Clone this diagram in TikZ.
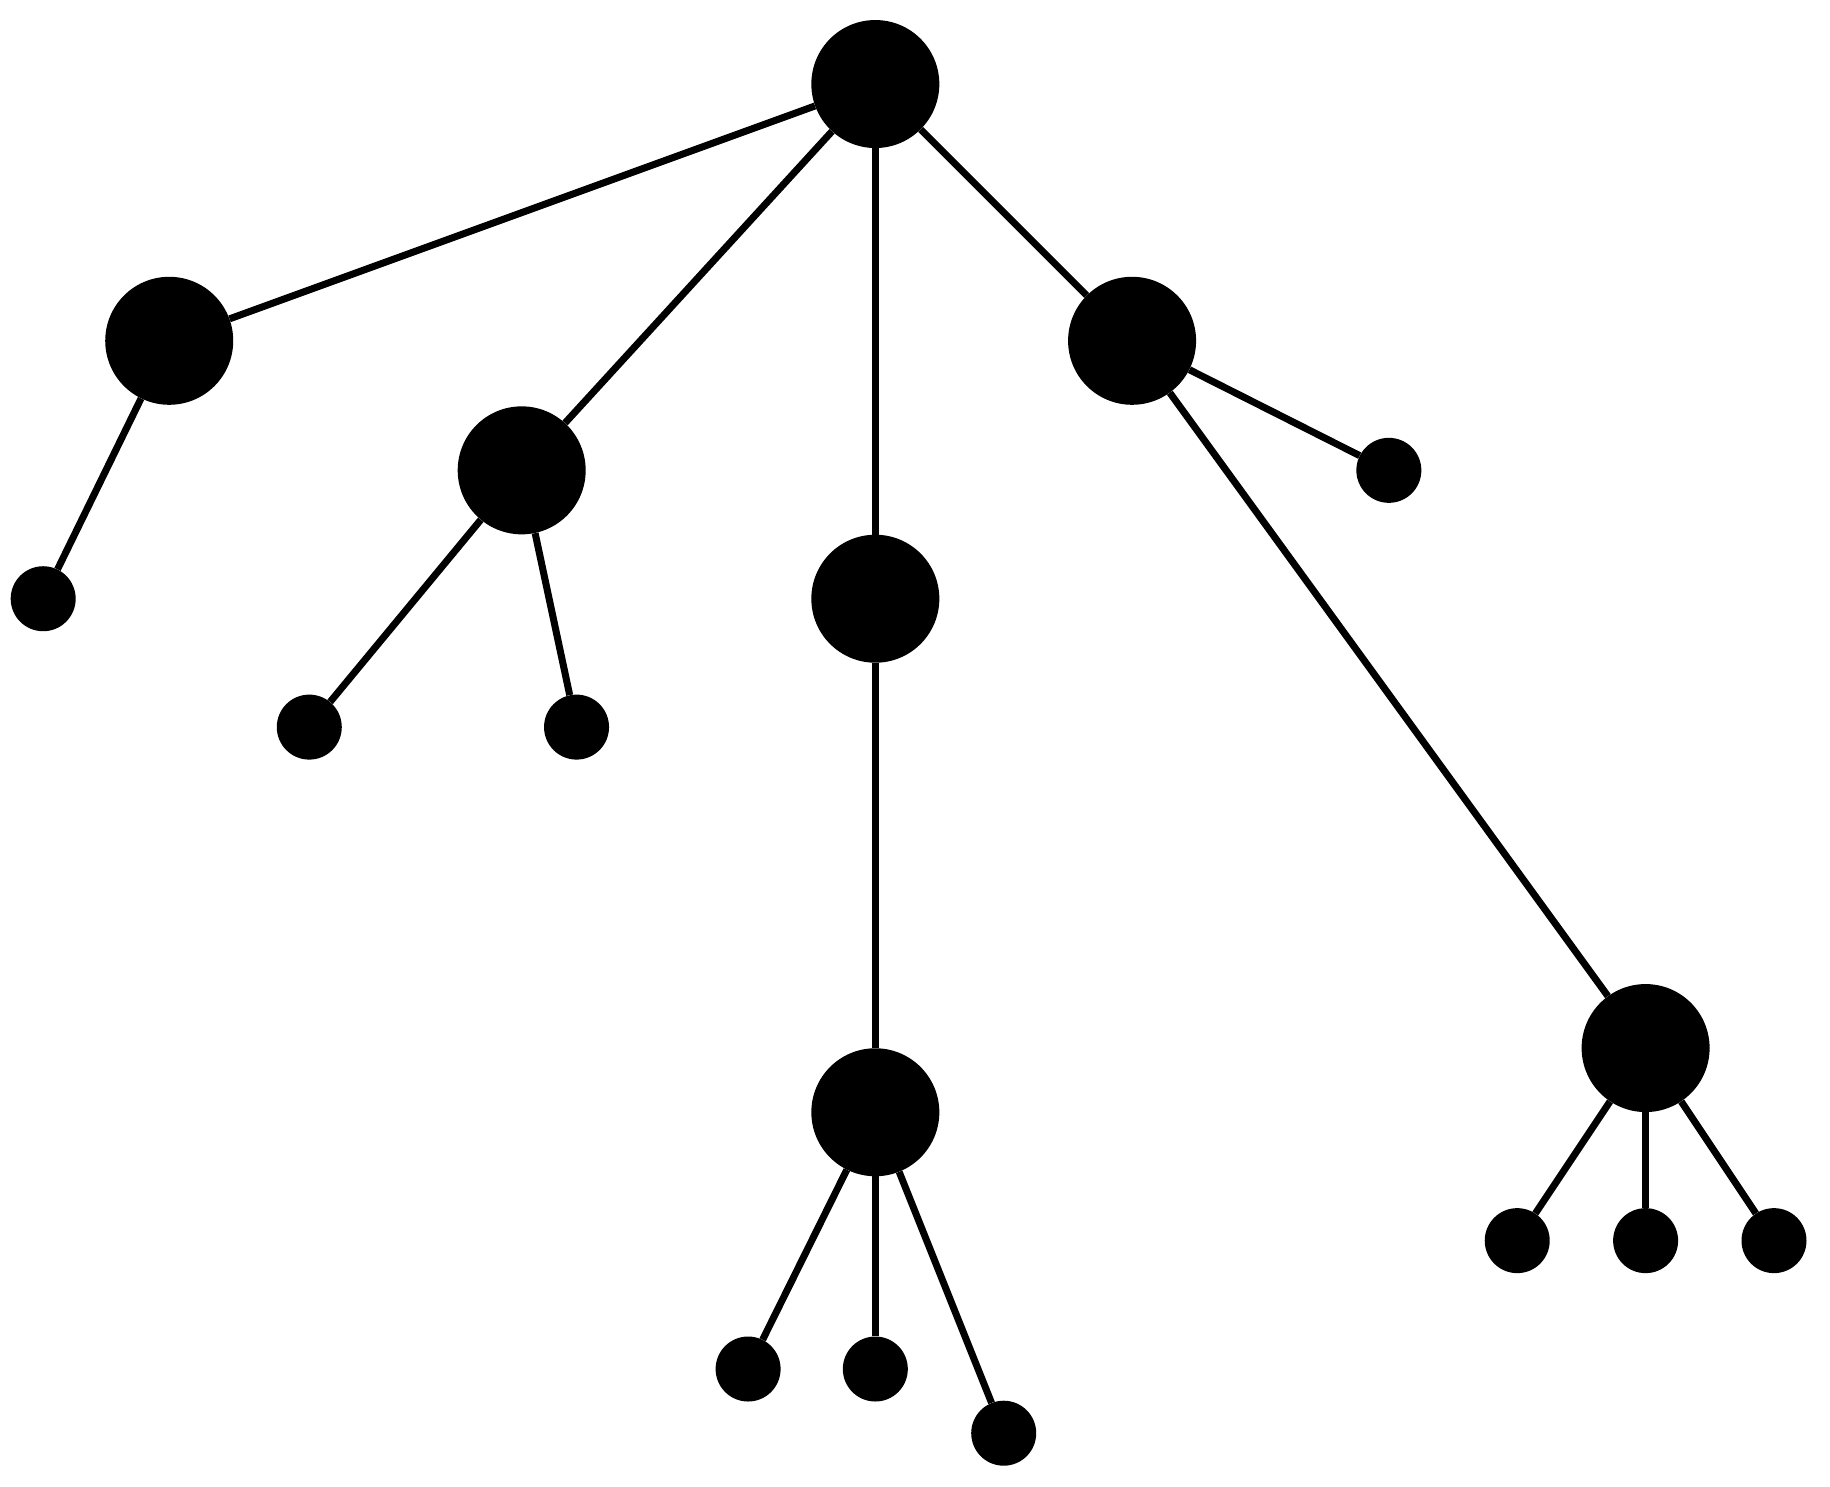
\documentclass[tikz,border=0pt]{standalone}
\usetikzlibrary{backgrounds}
\begin{document}
\begin{tikzpicture}[x=1.1671pt,y=-1.1671pt,
  big/.style={circle,fill=black,inner sep=0pt,minimum size=128pt},
  small/.style={circle,fill=black,inner sep=0pt,minimum size=65pt},
  edge/.style={line width=7pt}]
\fill[white] (0,0) rectangle (1568,1274);
\useasboundingbox (0,0) rectangle (1568,1274);
\node[big] (r) at (750,72) {};
\node[big] (A) at (145,292) {};
\node[big] (B) at (447,403) {};
\node[big] (C) at (750,513) {};
\node[big] (D) at (970,292) {};
\node[big] (E) at (750,953) {};
\node[big] (F) at (1410,898) {};
\node[small] (a1) at (37,513) {};
\node[small] (b1) at (265,623) {};
\node[small] (b2) at (494,623) {};
\node[small] (d1) at (1190,403) {};
\node[small] (e1) at (641,1173) {};
\node[small] (e2) at (750,1173) {};
\node[small] (e3) at (860,1228) {};
\node[small] (f1) at (1300,1063) {};
\node[small] (f2) at (1410,1063) {};
\node[small] (f3) at (1520,1063) {};
\foreach \a/\b in {r/A,r/B,r/C,r/D,A/a1,B/b1,B/b2,C/E,D/d1,D/F,E/e1,E/e2,E/e3,F/f1,F/f2,F/f3}
  \draw[edge] (\a) -- (\b);
\end{tikzpicture}
\end{document}
